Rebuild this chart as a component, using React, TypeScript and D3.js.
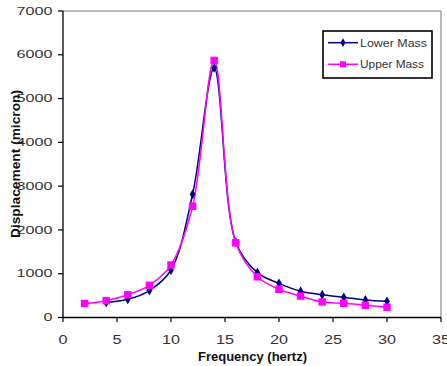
import React from "react";
import * as d3 from "d3";

const lowerFreq = [4, 6, 8, 10, 12, 14, 16, 18, 20, 22, 24, 26, 28, 30];
const lowerDisp = [340, 415, 615, 1085, 2815, 5700, 1720, 1025, 780, 600, 520, 460, 400, 370];
const upperFreq = [2, 4, 6, 8, 10, 12, 14, 16, 18, 20, 22, 24, 26, 28, 30];
const upperDisp = [320, 385, 520, 735, 1200, 2540, 5870, 1705, 930, 645, 490, 355, 325, 280, 235];
const xTicks = [0, 5, 10, 15, 20, 25, 30, 35];
const yTicks = [0, 1000, 2000, 3000, 4000, 5000, 6000, 7000];
const seriesNames = ["Lower Mass", "Upper Mass"];

const FONT = "'Liberation Sans', Arial, sans-serif";

export default function App() {
  const x = d3.scaleLinear().domain([0, 35]).range([63, 441]);
  const y = d3.scaleLinear().domain([0, 7000]).range([317.5, 11]);
  const line = d3
    .line<[number, number]>()
    .x((d) => x(d[0]))
    .y((d) => y(d[1]))
    .curve(d3.curveCatmullRom.alpha(0.5));

  const lower: [number, number][] = lowerFreq.map((f, i) => [f, lowerDisp[i]]);
  const upper: [number, number][] = upperFreq.map((f, i) => [f, upperDisp[i]]);
  const diamond = d3.symbol().type(d3.symbolDiamond).size(28)();
  const square = d3.symbol().type(d3.symbolSquare).size(56)();
  const diamondSmall = d3.symbol().type(d3.symbolDiamond).size(22)();
  const squareSmall = d3.symbol().type(d3.symbolSquare).size(36)();
  const navy = "#000080";
  const pink = "#FF00FF";

  return (
    <svg
      width={447}
      height={366}
      style={{ position: "fixed", left: 0, top: 0, background: "#fff" }}
      fontFamily={FONT}
    >
      <rect x={0} y={0} width={447} height={366} fill="#fff" />
      {/* frame */}
      <line x1={x(0)} x2={x(35)} y1={y(7000)} y2={y(7000)} stroke="#a0a0a0" strokeWidth={1.5} />
      <line x1={x(35)} x2={x(35)} y1={y(7000)} y2={y(0)} stroke="#a0a0a0" strokeWidth={1.5} />
      {/* axes */}
      <line x1={x(0)} x2={x(0)} y1={y(7000)} y2={y(0)} stroke="#000" strokeWidth={1.3} />
      <line x1={x(0)} x2={x(35)} y1={y(0)} y2={y(0)} stroke="#000" strokeWidth={1.3} />
      {yTicks.map((t) => (
        <g key={"y" + t}>
          <line x1={x(0) - 5} x2={x(0)} y1={y(t)} y2={y(t)} stroke="#000" strokeWidth={1.2} />
          <text
            x={52.5}
            y={y(t) + 3.7}
            textAnchor="end"
            fontSize={10.2}
            fill="#333"
            textLength={String(t).length * 9}
            lengthAdjust="spacingAndGlyphs"
          >
            {t}
          </text>
        </g>
      ))}
      {xTicks.map((t) => (
        <g key={"x" + t}>
          <line x1={x(t)} x2={x(t)} y1={y(0)} y2={y(0) + 4.5} stroke="#000" strokeWidth={1.2} />
          <text
            x={x(t)}
            y={344}
            textAnchor="middle"
            fontSize={12.5}
            fill="#333"
            textLength={String(t).length * 9}
            lengthAdjust="spacingAndGlyphs"
          >
            {t}
          </text>
        </g>
      ))}
      {/* axis titles */}
      <text
        x={252.5}
        y={361}
        textAnchor="middle"
        fontSize={12}
        fontWeight="bold"
        fill="#111"
        textLength={109}
        lengthAdjust="spacingAndGlyphs"
      >
        Frequency (hertz)
      </text>
      <text
        transform="translate(20,164) rotate(-90)"
        textAnchor="middle"
        fontSize={12}
        fontWeight="bold"
        fill="#111"
        textLength={148}
        lengthAdjust="spacingAndGlyphs"
      >
        Displacement (micron)
      </text>
      {/* series */}
      <path d={line(lower) || ""} fill="none" stroke={navy} strokeWidth={1.5} />
      <path d={line(upper) || ""} fill="none" stroke={pink} strokeWidth={1.5} />
      {lower.map((d, i) => (
        <path key={"l" + i} d={diamond || ""} transform={`translate(${x(d[0])},${y(d[1])})`} fill={navy} />
      ))}
      {upper.map((d, i) => (
        <path key={"u" + i} d={square || ""} transform={`translate(${x(d[0])},${y(d[1])})`} fill={pink} />
      ))}
      {/* legend */}
      <rect x={323} y={31} width={109} height={47} fill="#fff" stroke="#000" strokeWidth={1.6} />
      {seriesNames.map((name, i) => {
        const cy = 42.7 + i * 21.6;
        const col = i === 0 ? navy : pink;
        return (
          <g key={name}>
            <line x1={328} x2={358} y1={cy} y2={cy} stroke={col} strokeWidth={1.5} />
            <path d={(i === 0 ? diamondSmall : squareSmall) || ""} transform={`translate(343,${cy})`} fill={col} />
            <text
              x={360}
              y={cy + 3.8}
              fontSize={10.5}
              fill="#333"
              textLength={i === 0 ? 67 : 64}
              lengthAdjust="spacingAndGlyphs"
            >
              {name}
            </text>
          </g>
        );
      })}
    </svg>
  );
}
